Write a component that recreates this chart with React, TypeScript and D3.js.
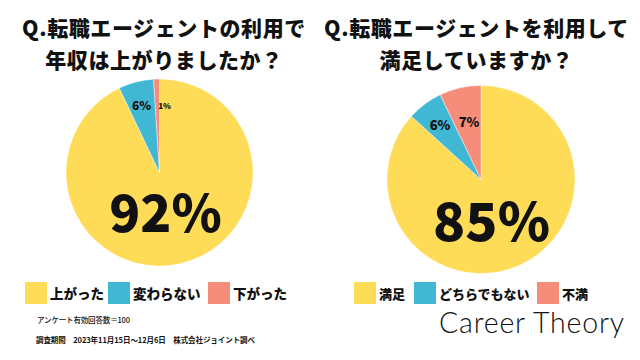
import React from "react";
import * as d3 from "d3";

const leftCategories = ["上がった", "変わらない", "下がった"];
const leftValues = [92, 6, 1];
const rightCategories = ["満足", "どちらでもない", "不満"];
const rightValues = [85, 6, 7];
const colors = ["#FEDC58", "#40B8D4", "#F68C7A"];

const leftTitle = ["Q.転職エージェントの利用で", "年収は上がりましたか？"];
const rightTitle = ["Q.転職エージェントを利用して", "満足していますか？"];
const noteCount = "アンケート有効回答数＝100";
const notePeriod = "調査期間　2023年11月15日～12月6日　株式会社ジョイント調べ";
const brand = "Career Theory";

const JP = "'Noto Sans CJK JP', 'Noto Sans', sans-serif";

type PieProps = {
  cx: number;
  cy: number;
  r: number;
  values: number[];
  labels: { dx: number; dy: number; size: number }[];
};

function Pie({ cx, cy, r, values, labels }: PieProps) {
  const pie = d3.pie<number>().sort(null).value((d) => d);
  const arcs = pie(values);
  const arc = d3.arc<d3.PieArcDatum<number>>().innerRadius(0).outerRadius(r);
  return (
    <g transform={`translate(${cx},${cy})`}>
      {arcs.map((a, i) => (
        <path key={i} d={arc(a) || ""} fill={colors[i]} stroke="#fff" strokeWidth={0.4} />
      ))}
      {arcs.map((a, i) => (
        <text
          key={"t" + i}
          x={labels[i].dx}
          y={labels[i].dy}
          textAnchor="middle"
          dominantBaseline="central"
          fontFamily={JP}
          fontWeight={900}
          fontSize={labels[i].size}
          fill="#111"
        >
          {`${values[i]}%`}
        </text>
      ))}
    </g>
  );
}

function Legend({ x, y, items, gaps, size }: { x: number; y: number; items: string[]; gaps: number[]; size: number }) {
  let pos = x;
  return (
    <g>
      {items.map((t, i) => {
        const sx = pos;
        pos += gaps[i];
        return (
          <g key={i}>
            <rect x={sx} y={y} width={22} height={22} fill={colors[i]} />
            <text x={sx + 25} y={y + 11} dominantBaseline="central" fontFamily={JP} fontWeight={900} fontSize={size} fill="#111">
              {t}
            </text>
          </g>
        );
      })}
    </g>
  );
}

export default function App() {
  return (
    <svg width={640} height={360} style={{ position: "absolute", left: 0, top: 0, background: "#fff" }}>
      <rect width={640} height={360} fill="#fff" />
      {leftTitle.map((t, i) => (
        <text key={i} x={164} y={36 + i * 32} textAnchor="middle" fontFamily={JP} fontWeight={900} fontSize={21} letterSpacing={0.6} fill="#111">
          {t}
        </text>
      ))}
      {rightTitle.map((t, i) => (
        <text key={i} x={476.5} y={36 + i * 32} textAnchor="middle" fontFamily={JP} fontWeight={900} fontSize={21} letterSpacing={0.6} fill="#111">
          {t}
        </text>
      ))}
      <Pie
        cx={159.5}
        cy={172.5}
        r={93.5}
        values={leftValues}
        labels={[
          { dx: 6, dy: 37, size: 51 },
          { dx: -18, dy: -68, size: 12 },
          { dx: 5, dy: -67, size: 8 },
        ]}
      />
      <Pie
        cx={481}
        cy={179.5}
        r={94}
        values={rightValues}
        labels={[
          { dx: 10.5, dy: 38.5, size: 53 },
          { dx: -41, dy: -55, size: 13 },
          { dx: -12, dy: -58, size: 13 },
        ]}
      />
      <Legend x={25} y={282} items={leftCategories} gaps={[83, 100, 100]} size={13.5} />
      <Legend x={354} y={282} items={rightCategories} gaps={[60, 123, 100]} size={13} />
      <text x={37} y={323} fontFamily={JP} fontWeight={500} fontSize={7.5} textLength={93} lengthAdjust="spacing" fill="#111">
        {noteCount}
      </text>
      <text x={36} y={343} fontFamily={JP} fontWeight={700} fontSize={7.5} textLength={219} lengthAdjust="spacing" fill="#111">
        {notePeriod}
      </text>
      <text x={439} y={333} fontFamily="Lato, 'Open Sans', sans-serif" fontWeight={300} fontSize={28.5} letterSpacing={0.8} fill="#111">
        {brand}
      </text>
    </svg>
  );
}
